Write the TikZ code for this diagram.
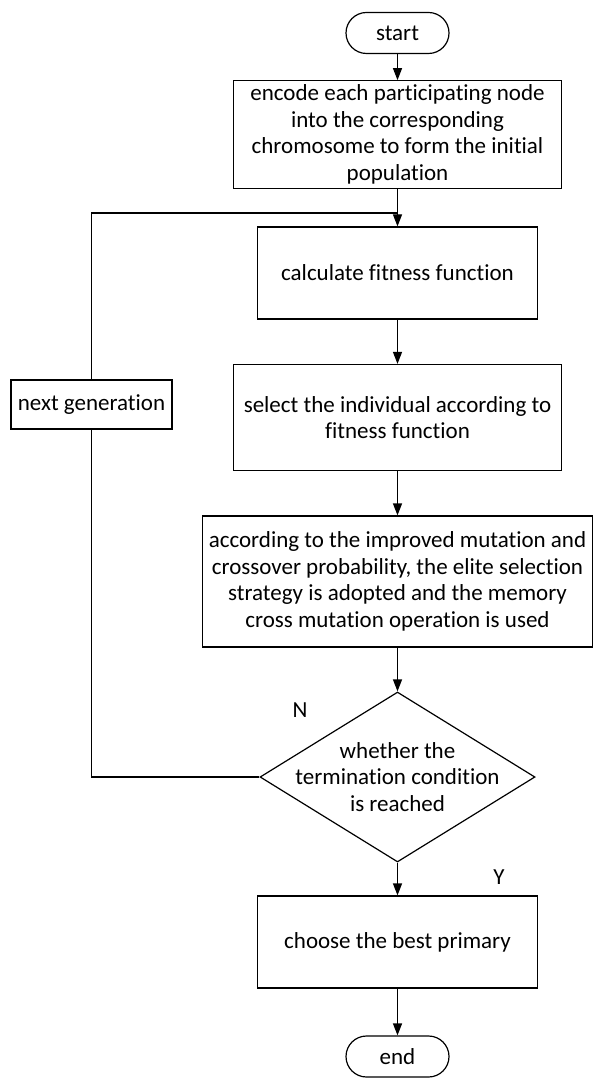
\documentclass[tikz,border=0pt]{standalone}
\usepackage{fontspec}
\setmainfont{Carlito}[Ligatures={NoCommon,NoContextual,NoRare}]
\usetikzlibrary{arrows.meta,shapes.geometric}

\tikzset{
  box/.style={draw, line width=0.6pt, align=center, inner sep=2pt},
  term/.style={draw, line width=0.6pt, rounded corners=10.25pt, minimum width=51.5pt, minimum height=20.5pt, inner sep=0pt},
  decision/.style={draw, line width=0.6pt, diamond, minimum width=137.5pt, minimum height=85pt, inner sep=0pt},
  arr/.style={line width=0.6pt, -{Triangle[length=6pt,width=4.5pt]}},
  link/.style={line width=0.6pt}
}

\begin{document}
\begin{tikzpicture}[x=0.5pt, y=-0.5pt, font=\fontsize{11.5}{13.3}\selectfont]

    % Page frame (pixel coordinates of the reference)
    \useasboundingbox (0,0) rectangle (593,1079);

    % Terminals
    \node[term] (start) at (397.5,33) {start};
    \node[term] (stop) at (397.5,1056.5) {end};

    % Process boxes
    \node[box, minimum width=164pt, minimum height=53.5pt] (init) at (397.5,134.5)
        {encode each participating node\\into the corresponding\\chromosome to form the initial\\population};
    \node[box, minimum width=140pt, minimum height=46pt] (fit) at (397.5,273)
        {calculate fitness function};
    \node[box, minimum width=164pt, minimum height=53pt] (sel) at (397.5,417.5)
        {select the individual according to\\fitness function};
    \node[box, minimum width=195pt, minimum height=65.5pt] (cross) at (397.5,581.5)
        {according to the improved mutation and\\crossover probability, the elite selection\\strategy is adopted and the memory\\cross mutation operation is used};

    % Decision
    \node[decision, label={[align=center]center:whether the\\termination condition\\is reached}] (dec) at (397.5,777) {};

    % Last step
    \node[box, minimum width=140pt, minimum height=46pt] (best) at (397.5,942)
        {choose the best primary};

    % Loop back
    \node[box, minimum width=80.5pt, minimum height=24.5pt] (next) at (91.5,404.5) {next generation};
    \coordinate (join) at (397.5,213);

    % Branch labels
    \node (nlab) at (300,710) {N};
    \node (ylab) at (499,877) {Y};

    % Main flow
    \foreach \a/\b in {start/init, init/fit, fit/sel, sel/cross, cross/dec, dec/best, best/stop}
        \draw[arr] (\a) -- (\b);

    % Feedback path
    \draw[link] (dec.west) -| (next.south);
    \draw[link] (next.north) |- (join);

\end{tikzpicture}
\end{document}
